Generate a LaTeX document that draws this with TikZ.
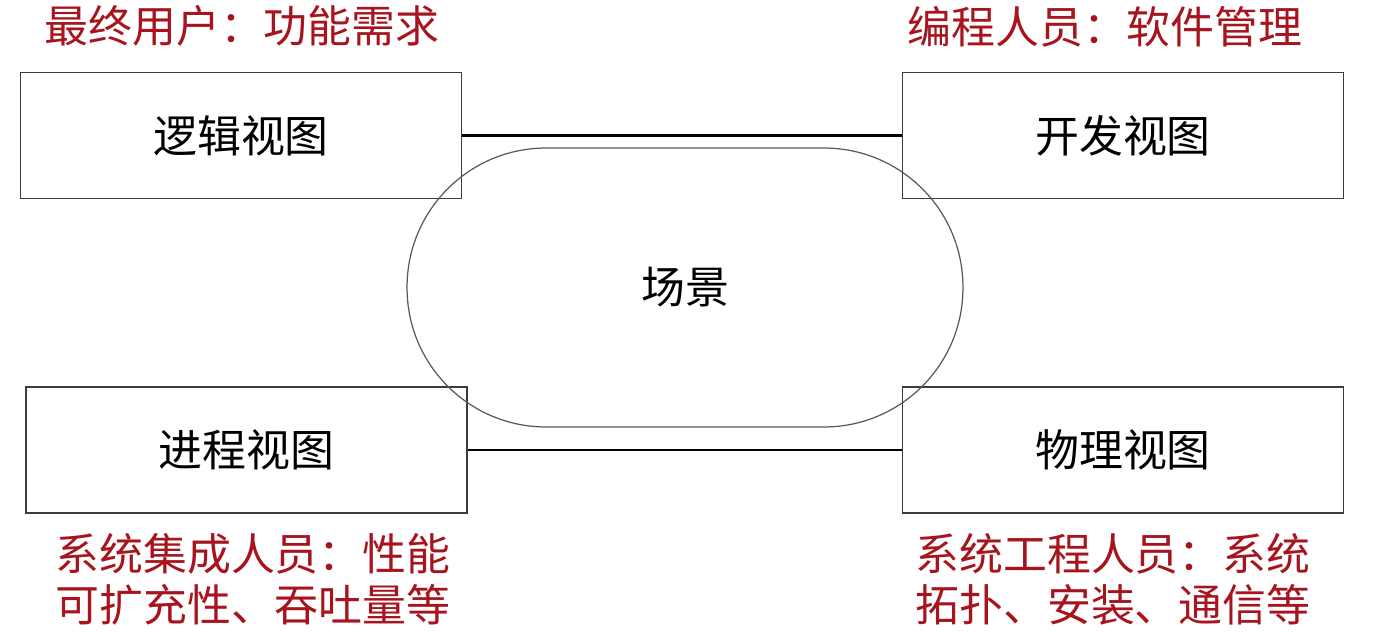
\documentclass[tikz,border=0pt]{standalone}
\usepackage{fontspec}
\usepackage{tikz}
\usetikzlibrary{shapes,positioning}
\newfontfamily\cjk{Noto Sans CJK SC}
\definecolor{whored}{RGB}{168,20,30}
\definecolor{edgegray}{RGB}{60,60,60}
\tikzstyle{view}=[rectangle,draw=edgegray,line width=0.9pt,minimum width=8.82cm,minimum height=2.52cm,font=\cjk\fontsize{25}{29}\selectfont]
\tikzstyle{scene}=[rectangle,rounded corners=2.78cm,draw=edgegray!85,line width=0.7pt,minimum width=11.12cm,minimum height=5.58cm,font=\cjk\fontsize{25}{29}\selectfont]
\tikzstyle{who}=[text=whored,inner sep=0pt,align=left,font=\cjk\fontsize{25}{29}\selectfont]
\tikzstyle{link}=[black,line width=1.5pt]
\newcommand{\viewpicunit}{0.02cm}

\begin{document}
\begin{tikzpicture}[x=\viewpicunit,y=\viewpicunit]
    \useasboundingbox (0,0) rectangle (1374,640);
    \node[view] (logic) at (241,504.5)   {逻辑视图};
    \node[view] (dev) at (1123,504.5)    {开发视图};
    \node[view] (proc) at (246.5,190)    {进程视图};
    \node[view] (phys) at (1123,190)     {物理视图};
	 \draw[link] (logic)--(dev);
	 \draw[link] (proc)--(phys);
    \node[scene] (sc) at (685,352.5) {场景};
%   stakeholders
    \node[who,above=14pt of logic,xshift=0.02cm] (logicwho) {最终用户：功能需求};
    \node[who,above=14pt of dev,xshift=-0.36cm] (devwho) {编程人员：软件管理};
    \node[who,below=11pt of proc,xshift=0.13cm] (procwho) {系统集成人员：性能\\可扩充性、吞吐量等};
    \node[who,below=11pt of phys,xshift=-0.2cm] (physwho) {系统工程人员：系统\\拓扑、安装、通信等};
\end{tikzpicture}
\end{document}
